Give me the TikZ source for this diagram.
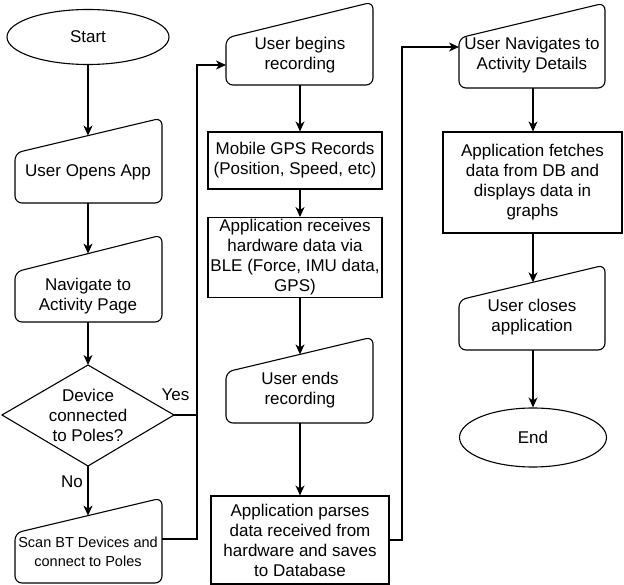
\documentclass[tikz,border=0pt]{standalone}
\usepackage{fontspec}
\setmainfont{Liberation Sans}
\usetikzlibrary{arrows.meta,shapes.geometric}
\tikzset{
  line/.style={line width=1.1pt, draw=black},
  arr/.style={line width=1.1pt, draw=black, -{Stealth[length=10pt,width=9pt,inset=3pt]}},
  shp/.style={line width=1.1pt, draw=black, rounded corners=7pt},
  txt/.style={align=center, inner sep=0pt, font=\fontsize{17}{20}\selectfont},
  smalltxt/.style={align=center, inner sep=0pt, font=\fontsize{14.5}{19.5}\selectfont},
  box/.style={line width=1.1pt, draw=black, rectangle, align=center, inner sep=2pt, font=\fontsize{17}{20}\selectfont},
  term/.style={line width=1.1pt, draw=black, ellipse, inner sep=0pt, font=\fontsize{17}{20}\selectfont},
  lbl/.style={inner sep=0pt, font=\fontsize{17}{20}\selectfont},
}
\begin{document}
\begin{tikzpicture}[x=1pt,y=-1pt]
\fill[white] (0,0) rectangle (624,585);
\useasboundingbox (0,0) rectangle (624,585);

% ---------- shapes ----------
\node[term, minimum width=162pt, minimum height=55pt] (start) at (88,37) {Start};

\draw[shp] (15,153) -- (162,118) -- (162,203) -- (15,203) -- cycle;
\node[txt] (open) at (88,172) {User Opens App};

\draw[shp] (15,272) -- (162,235) -- (162,322) -- (15,322) -- cycle;
\node[txt] (nav) at (88,296) {Navigate to\\Activity Page};

\draw[line] (2,415) -- (88,365) -- (174,415) -- (88,466) -- cycle;
\node[txt] (dia) at (88,415) {Device\\connected\\to Poles?};

\draw[shp] (15,533) -- (162,498) -- (162,583) -- (15,583) -- cycle;
\node[smalltxt] (scan) at (88,552) {Scan BT Devices and\\connect to Poles};

\draw[shp] (226,38) -- (373,2) -- (373,85) -- (226,85) -- cycle;
\node[txt] (begin) at (300,55) {User begins\\recording};

\node[box, minimum width=174pt, minimum height=57pt] (gps) at (295,160.5) {Mobile GPS Records\\(Position, Speed, etc)};
\node[box, minimum width=174pt, minimum height=79pt] (recv) at (295,257.5) {Application receives\\hardware data via\\BLE (Force, IMU data,\\GPS)};

\draw[shp] (226,372) -- (373,337) -- (373,423) -- (226,423) -- cycle;
\node[txt] (ends) at (300,390) {User ends\\recording};

\node[box, minimum width=178pt, minimum height=88pt] (parse) at (300,540) {Application parses\\data received from\\hardware and saves\\to Database};

\draw[shp] (459,38) -- (605,3) -- (605,88) -- (459,88) -- cycle;
\node[txt] (navdet) at (532,55) {User Navigates to\\Activity Details};

\node[box, minimum width=179pt, minimum height=101pt] (fetch) at (532.5,182.5) {Application fetches\\data from DB and\\displays data in\\graphs};

\draw[shp] (459,300) -- (605,265) -- (605,350) -- (459,350) -- cycle;
\node[txt] (closes) at (532,317.5) {User closes\\application};

\node[term, minimum width=147pt, minimum height=59pt] (end) at (533,437.5) {End};

% ---------- anchor points on the shapes ----------
\coordinate (open-in) at (88,135.6);
\coordinate (open-b) at (88,203);
\coordinate (nav-in) at (88,253.6);
\coordinate (nav-b) at (88,322);
\coordinate (dia-n) at (88,365);
\coordinate (dia-e) at (174,415);
\coordinate (dia-s) at (88,466);
\coordinate (scan-in) at (88,515.6);
\coordinate (scan-r) at (162,539);
\coordinate (begin-l) at (226,65);
\coordinate (begin-b) at (300,85);
\coordinate (ends-in) at (300,354.4);
\coordinate (ends-b) at (300,423);
\coordinate (navdet-l) at (459,47);
\coordinate (navdet-b) at (533,88);
\coordinate (closes-in) at (533,282.3);
\coordinate (closes-b) at (533,350);
\coordinate (yc) at (197,415);
\coordinate (yt) at (197,65);
\coordinate (pc) at (402,540);
\coordinate (pt) at (402,47);

% ---------- connectors ----------
\draw[arr] (start.south) -- (open-in);
\draw[arr] (open-b) -- (nav-in);
\draw[arr] (nav-b) -- (dia-n);
\draw[arr] (dia-s) -- (scan-in);
\draw[arr] (dia-e) -- (yc) -- (yt) -- (begin-l);
\draw[line] (scan-r) -| (yc);
\node[lbl] (yes) at (175.5,395) {Yes};
\node[lbl] (no) at (72,482) {No};

\draw[arr] (begin-b) -- (begin-b |- gps.north);
\draw[arr] (begin-b |- gps.south) -- (begin-b |- recv.north);
\draw[arr] (begin-b |- recv.south) -- (ends-in);
\draw[arr] (ends-b) -- (ends-b |- parse.north);
\draw[arr] (parse.east) -- (pc) -- (pt) -- (navdet-l);

\draw[arr] (navdet-b) -- (navdet-b |- fetch.north);
\draw[arr] (navdet-b |- fetch.south) -- (closes-in);
\draw[arr] (closes-b) -- (closes-b |- end.north);
\end{tikzpicture}
\end{document}
